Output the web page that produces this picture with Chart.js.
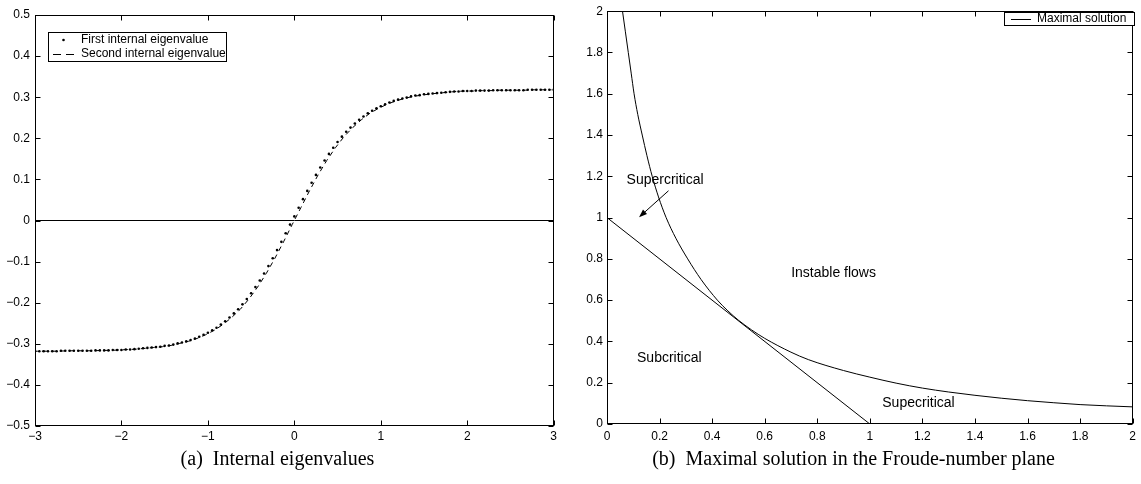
<!DOCTYPE html>
<html>
<head>
<meta charset="utf-8">
<title>Internal eigenvalues / Froude-number plane</title>
<script src="https://cdn.jsdelivr.net/npm/chart.js@4.4.1/dist/chart.umd.min.js"></script>
<style>
  html, body { margin: 0; padding: 0; background: #fff; }
  body { width: 1141px; height: 484px; position: relative; overflow: hidden; }
  .panel { position: absolute; top: 0; height: 484px; }
  #panel-a { left: 0; width: 560px; }
  #panel-b { left: 570px; width: 571px; }
</style>
</head>
<body>
<div class="panel" id="panel-a"><canvas id="eigen-chart"></canvas></div>
<div class="panel" id="panel-b"><canvas id="froude-chart"></canvas></div>
<script>
// (a) Internal eigenvalues
const eigDotX = [
  -3, -2.95, -2.9, -2.85, -2.8, -2.75, -2.7, -2.65, -2.6, -2.55,
  -2.5, -2.45, -2.4, -2.35, -2.3, -2.25, -2.2, -2.15, -2.1, -2.05,
  -2, -1.95, -1.9, -1.85, -1.8, -1.75, -1.7, -1.65, -1.6, -1.55,
  -1.5, -1.45, -1.4, -1.35, -1.3, -1.25, -1.2, -1.15, -1.1, -1.05,
  -1, -0.95, -0.9, -0.85, -0.8, -0.75, -0.7, -0.65, -0.6, -0.55,
  -0.5, -0.45, -0.4, -0.35, -0.3, -0.25, -0.2, -0.15, -0.1, -0.05,
  0, 0.05, 0.1, 0.15, 0.2, 0.25, 0.3, 0.35, 0.4, 0.45,
  0.5, 0.55, 0.6, 0.65, 0.7, 0.75, 0.8, 0.85, 0.9, 0.95,
  1, 1.05, 1.1, 1.15, 1.2, 1.25, 1.3, 1.35, 1.4, 1.45,
  1.5, 1.55, 1.6, 1.65, 1.7, 1.75, 1.8, 1.85, 1.9, 1.95,
  2, 2.05, 2.1, 2.15, 2.2, 2.25, 2.3, 2.35, 2.4, 2.45,
  2.5, 2.55, 2.6, 2.65, 2.7, 2.75, 2.8, 2.85, 2.9, 2.95,
  3
];
const eigDotY = [
  -0.318, -0.318, -0.318, -0.318, -0.318, -0.318, -0.317, -0.317, -0.317, -0.317,
  -0.317, -0.317, -0.317, -0.317, -0.316, -0.316, -0.316, -0.316, -0.315, -0.315,
  -0.315, -0.314, -0.314, -0.313, -0.312, -0.311, -0.310, -0.309, -0.308, -0.307,
  -0.305, -0.304, -0.302, -0.299, -0.297, -0.294, -0.291, -0.287, -0.283, -0.278,
  -0.273, -0.267, -0.261, -0.253, -0.245, -0.236, -0.226, -0.216, -0.204, -0.191,
  -0.177, -0.162, -0.146, -0.129, -0.111, -0.092, -0.072, -0.052, -0.031, -0.010,
  0.010, 0.031, 0.052, 0.072, 0.092, 0.111, 0.129, 0.146, 0.162, 0.177,
  0.191, 0.204, 0.216, 0.226, 0.236, 0.245, 0.253, 0.261, 0.267, 0.273,
  0.278, 0.283, 0.287, 0.291, 0.294, 0.297, 0.299, 0.302, 0.304, 0.305,
  0.307, 0.308, 0.309, 0.310, 0.311, 0.312, 0.313, 0.314, 0.314, 0.315,
  0.315, 0.315, 0.316, 0.316, 0.316, 0.316, 0.317, 0.317, 0.317, 0.317,
  0.317, 0.317, 0.317, 0.317, 0.318, 0.318, 0.318, 0.318, 0.318, 0.318,
  0.318
];
const eigDashX = [
  -3.025, -2.925, -2.825, -2.725, -2.625, -2.525, -2.425, -2.325, -2.225, -2.125,
  -2.025, -1.925, -1.825, -1.725, -1.625, -1.525, -1.425, -1.325, -1.225, -1.125,
  -1.025, -0.925, -0.825, -0.725, -0.625, -0.525, -0.425, -0.325, -0.225, -0.125,
  -0.025,
  0.075, 0.175, 0.275, 0.375, 0.475, 0.575, 0.675, 0.775, 0.875, 0.975,
  1.075, 1.175, 1.275, 1.375, 1.475, 1.575, 1.675, 1.775, 1.875, 1.975,
  2.075, 2.175, 2.275, 2.375, 2.475, 2.575, 2.675, 2.775, 2.875, 2.975
];
const eigDashY = [
  -0.318, -0.318, -0.318, -0.318, -0.317, -0.317, -0.317, -0.317, -0.316, -0.316,
  -0.315, -0.314, -0.313, -0.311, -0.309, -0.307, -0.304, -0.299, -0.294, -0.287,
  -0.278, -0.267, -0.253, -0.236, -0.216, -0.191, -0.162, -0.129, -0.092, -0.052,
  -0.010,
  0.031, 0.072, 0.111, 0.146, 0.177, 0.204, 0.226, 0.245, 0.261, 0.273,
  0.283, 0.291, 0.297, 0.302, 0.305, 0.308, 0.310, 0.312, 0.314, 0.315,
  0.315, 0.316, 0.316, 0.317, 0.317, 0.317, 0.317, 0.318, 0.318, 0.318
];
const eigZeroX = [-3, 3];
const eigZeroY = [0, 0];
const eigXTicks = [-3, -2, -1, 0, 1, 2, 3];
const eigYTicks = [-0.5, -0.4, -0.3, -0.2, -0.1, 0, 0.1, 0.2, 0.3, 0.4, 0.5];

// (b) Froude-number plane
const maxSolX = [
  0.059, 0.07, 0.081, 0.092, 0.103, 0.117, 0.134, 0.152, 0.172, 0.196,
  0.225, 0.262, 0.307, 0.358, 0.42, 0.46, 0.5, 0.55, 0.6, 0.7,
  0.766, 0.9, 1, 1.1, 1.2, 1.3, 1.4, 1.5, 1.6, 1.7,
  1.8, 1.9, 2
];
const maxSolY = [
  2, 1.9, 1.8, 1.7, 1.6, 1.5, 1.4, 1.3, 1.2, 1.1,
  1, 0.9, 0.8, 0.7, 0.6, 0.548, 0.503, 0.456, 0.415, 0.348,
  0.312, 0.259, 0.227, 0.198, 0.174, 0.155, 0.139, 0.125, 0.113, 0.103,
  0.094, 0.088, 0.083
];
const critLineX = [0, 1];
const critLineY = [1, 0];
const froudeTicks = [0, 0.2, 0.4, 0.6, 0.8, 1, 1.2, 1.4, 1.6, 1.8, 2];

const sansFont = "'Liberation Sans', Arial, Helvetica, sans-serif";
const serifFont = "'Liberation Serif', 'Times New Roman', serif";

const toPoints = (xs, ys) => xs.map((x, i) => ({ x: x, y: ys[i] }));
const tickText = (v) => String(v).replace('-', '\u2212');

// Closed box round the plot area, tick marks pointing inwards on all sides
const boxAxes = {
  id: 'boxAxes',
  afterDatasetsDraw(chart) {
    const { ctx, chartArea: area, scales } = chart;
    const left = Math.round(area.left) + 0.5;
    const right = Math.round(area.right) - 0.5;
    const top = Math.round(area.top) + 0.5;
    const bottom = Math.round(area.bottom) - 0.5;
    const len = 5;
    ctx.save();
    ctx.strokeStyle = '#000';
    ctx.lineWidth = 1;
    ctx.strokeRect(left, top, right - left, bottom - top);
    ctx.beginPath();
    scales.x.ticks.forEach((t) => {
      const px = Math.round(scales.x.getPixelForValue(t.value)) + 0.5;
      ctx.moveTo(px, bottom); ctx.lineTo(px, bottom - len);
      ctx.moveTo(px, top); ctx.lineTo(px, top + len);
    });
    scales.y.ticks.forEach((t) => {
      const py = Math.round(scales.y.getPixelForValue(t.value)) + 0.5;
      ctx.moveTo(left, py); ctx.lineTo(left + len, py);
      ctx.moveTo(right, py); ctx.lineTo(right - len, py);
    });
    ctx.stroke();
    ctx.restore();
  }
};

// Framed legend drawn inside the axes
const boxLegend = {
  id: 'boxLegend',
  afterDatasetsDraw(chart, args, opts) {
    const { ctx } = chart;
    const items = chart.data.datasets.filter((ds) => ds.label);
    ctx.save();
    ctx.fillStyle = '#fff';
    ctx.fillRect(opts.x, opts.y, opts.width, opts.height);
    ctx.strokeStyle = '#000';
    ctx.lineWidth = 1;
    ctx.strokeRect(opts.x + 0.5, opts.y + 0.5, opts.width, opts.height);
    ctx.font = '12px ' + sansFont;
    ctx.textAlign = 'left';
    ctx.textBaseline = 'middle';
    items.forEach((ds, i) => {
      const cy = opts.firstRow + i * opts.rowGap;
      if (ds.showLine === false) {
        ctx.fillStyle = '#000';
        ctx.beginPath();
        ctx.arc((opts.sampleFrom + opts.sampleTo) / 2, cy, ds.pointRadius, 0, Math.PI * 2);
        ctx.fill();
      } else {
        ctx.beginPath();
        ctx.setLineDash(ds.borderDash ? opts.sampleDash : []);
        ctx.moveTo(opts.sampleFrom, Math.round(cy) + 0.5);
        ctx.lineTo(opts.sampleTo, Math.round(cy) + 0.5);
        ctx.stroke();
        ctx.setLineDash([]);
      }
      ctx.fillStyle = '#000';
      ctx.fillText(ds.label, opts.textX, cy);
    });
    ctx.restore();
  }
};

// Region names and arrow in the Froude-number plane
const froudeNotes = {
  id: 'froudeNotes',
  afterDatasetsDraw(chart) {
    const { ctx, scales: { x, y } } = chart;
    const notes = [
      { text: 'Supercritical', x: 0.221, y: 1.18 },
      { text: 'Instable flows', x: 0.862, y: 0.729 },
      { text: 'Subcritical', x: 0.237, y: 0.321 },
      { text: 'Supecritical', x: 1.185, y: 0.101 }
    ];
    ctx.save();
    ctx.fillStyle = '#000';
    ctx.strokeStyle = '#000';
    ctx.font = '14px ' + sansFont;
    ctx.textAlign = 'center';
    ctx.textBaseline = 'middle';
    notes.forEach((n) => ctx.fillText(n.text, x.getPixelForValue(n.x), y.getPixelForValue(n.y)));

    // arrow from the "Supercritical" label down into the narrow region
    const x0 = x.getPixelForValue(0.234), y0 = y.getPixelForValue(1.13);
    const x1 = x.getPixelForValue(0.122), y1 = y.getPixelForValue(1.002);
    const ang = Math.atan2(y1 - y0, x1 - x0);
    const head = 8, half = 3;
    ctx.lineWidth = 1;
    ctx.beginPath();
    ctx.moveTo(x0, y0);
    ctx.lineTo(x1 - Math.cos(ang) * head, y1 - Math.sin(ang) * head);
    ctx.stroke();
    ctx.beginPath();
    ctx.moveTo(x1, y1);
    ctx.lineTo(x1 - Math.cos(ang) * head + Math.sin(ang) * half, y1 - Math.sin(ang) * head - Math.cos(ang) * half);
    ctx.lineTo(x1 - Math.cos(ang) * head - Math.sin(ang) * half, y1 - Math.sin(ang) * head + Math.cos(ang) * half);
    ctx.closePath();
    ctx.fill();
    ctx.restore();
  }
};

function axis(min, max, tickValues, opts) {
  return {
    type: 'linear',
    min: min,
    max: max,
    afterBuildTicks: (scale) => { scale.ticks = tickValues.map((v) => ({ value: v })); },
    afterFit: opts.fit,
    grid: { display: false, drawTicks: false },
    border: { display: false },
    ticks: {
      autoSkip: false,
      maxRotation: 0,
      padding: opts.padding,
      color: '#000',
      font: { family: sansFont, size: 12 },
      callback: tickText
    }
  };
}

function caption(text) {
  return {
    display: true,
    position: 'bottom',
    text: text,
    color: '#000',
    font: { family: serifFont, size: 20, weight: 'normal', lineHeight: 1.2 },
    padding: { top: 0, bottom: 12 }
  };
}

Chart.defaults.animation = false;

new Chart(document.getElementById('eigen-chart'), {
  type: 'scatter',
  data: {
    datasets: [
      {
        label: 'First internal eigenvalue',
        data: toPoints(eigDotX, eigDotY),
        showLine: false,
        pointRadius: 1.3,
        pointBorderWidth: 0,
        pointBackgroundColor: '#000'
      },
      {
        label: 'Second internal eigenvalue',
        data: toPoints(eigDashX, eigDashY),
        showLine: true,
        borderColor: '#000',
        borderWidth: 1,
        borderDash: [5, 4],
        pointRadius: 0
      },
      {
        data: toPoints(eigZeroX, eigZeroY),
        showLine: true,
        borderColor: '#000',
        borderWidth: 1,
        pointRadius: 0
      }
    ]
  },
  options: {
    responsive: true,
    maintainAspectRatio: false,
    layout: { padding: { top: 15, right: 5, left: 0, bottom: 0 } },
    scales: {
      x: axis(-3, 3, eigXTicks, { padding: 3, fit: (s) => { s.height = 22; } }),
      y: axis(-0.5, 0.5, eigYTicks, { padding: 5, fit: (s) => { s.width = 35; } })
    },
    plugins: {
      legend: { display: false },
      tooltip: { enabled: false },
      title: caption('(a)  Internal eigenvalues'),
      boxLegend: {
        x: 48, y: 32, width: 178, height: 29,
        firstRow: 40, rowGap: 13.5,
        sampleFrom: 53, sampleTo: 74, sampleDash: [8, 5], textX: 81
      }
    }
  },
  plugins: [boxAxes, boxLegend]
});

new Chart(document.getElementById('froude-chart'), {
  type: 'scatter',
  data: {
    datasets: [
      {
        label: 'Maximal solution',
        data: toPoints(maxSolX, maxSolY),
        showLine: true,
        borderColor: '#000',
        borderWidth: 1,
        pointRadius: 0,
        cubicInterpolationMode: 'monotone'
      },
      {
        data: toPoints(critLineX, critLineY),
        showLine: true,
        borderColor: '#000',
        borderWidth: 1,
        pointRadius: 0
      }
    ]
  },
  options: {
    responsive: true,
    maintainAspectRatio: false,
    layout: { padding: { top: 7, right: 4, left: 0, bottom: 0 } },
    scales: {
      x: axis(0, 2, froudeTicks, { padding: 5, fit: (s) => { s.height = 24; } }),
      y: axis(0, 2, froudeTicks, { padding: 4, fit: (s) => { s.width = 37; } })
    },
    plugins: {
      legend: { display: false },
      tooltip: { enabled: false },
      title: caption('(b)  Maximal solution in the Froude-number plane'),
      boxLegend: {
        x: 434, y: 12, width: 130, height: 13,
        firstRow: 18.5, rowGap: 14,
        sampleFrom: 441, sampleTo: 461, sampleDash: [], textX: 467
      }
    }
  },
  plugins: [boxAxes, boxLegend, froudeNotes]
});
</script>
</body>
</html>
